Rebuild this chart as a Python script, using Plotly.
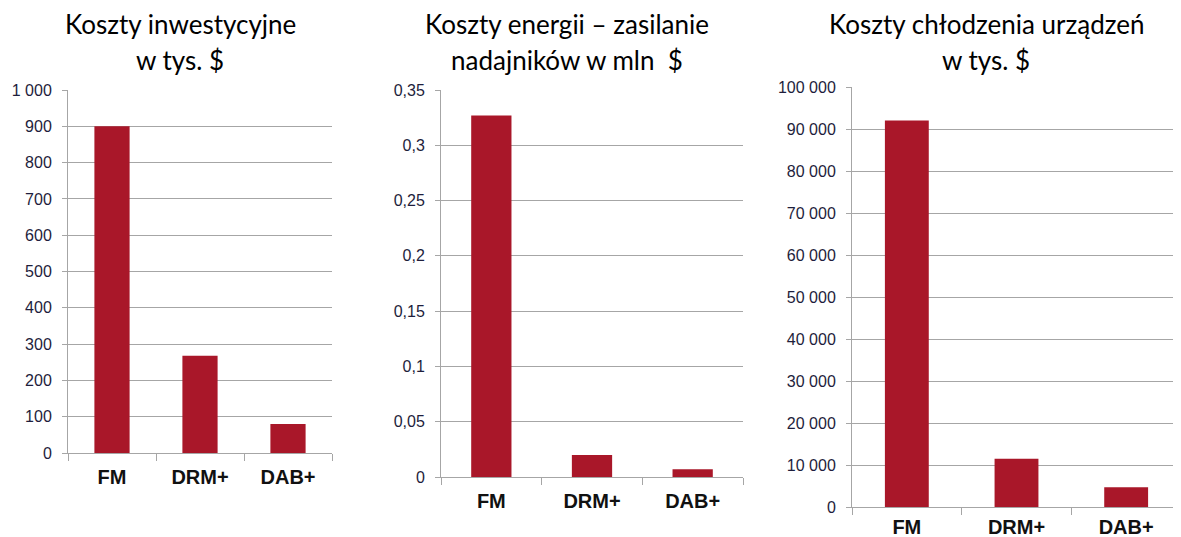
import plotly.graph_objects as go

categories = ["FM", "DRM+", "DAB+"]
invest_k_usd = [900, 268, 80]
energy_mln_usd = [0.327, 0.020, 0.007]
cooling_k_usd = [92000, 11500, 4700]

titles = [
    ["Koszty inwestycyjne", "w tys. $"],
    ["Koszty energii – zasilanie", "nadajników w mln  $"],
    ["Koszty chłodzenia urządzeń", "w tys. $"],
]

W, H = 1181, 537
OFF = 8  # page body margin offset
BAR = "#A91729"
GRID = "#A6A6A6"
TICKC = "#1E1E3C"

# pixel boxes in the picture (left, right, top, bottom)
boxes = [(68, 332, 90, 453), (441, 743, 90, 477), (852, 1181, 87, 507)]
ranges = [(0, 1000, 100, ",d"), (0, 0.35, 0.05, ""), (0, 100000, 10000, ",d")]
xstandoff = [6, 6, 2]
title_cx = [180, 567, 986]
series = [invest_k_usd, energy_mln_usd, cooling_k_usd]

fig = go.Figure()
layout = dict(
    width=W, height=H, margin=dict(l=0, r=0, t=0, b=0, pad=0, autoexpand=False),
    paper_bgcolor="white", plot_bgcolor="white",
    showlegend=False, separators=", ",
    annotations=[],
)
for i in range(3):
    l, r, t, b = [v - OFF for v in boxes[i]]
    r = min(r, W)
    xa = "x" if i == 0 else f"x{i+1}"
    ya = "y" if i == 0 else f"y{i+1}"
    fig.add_trace(go.Bar(x=categories, y=series[i], xaxis=xa, yaxis=ya,
                         marker=dict(color=BAR, line=dict(width=0)), width=0.4))
    lo, hi, dt, fmt = ranges[i]
    kx = "xaxis" if i == 0 else f"xaxis{i+1}"
    ky = "yaxis" if i == 0 else f"yaxis{i+1}"
    layout[kx] = dict(domain=[l / W, r / W], anchor=ya, type="category",
                      automargin=False,
                      showline=True, linecolor=GRID, linewidth=1,
                      ticks="outside", tickson="boundaries", ticklen=7, tickcolor=GRID,
                      showgrid=False, ticklabelstandoff=xstandoff[i],
                      tickfont=dict(family="Arial", size=20, color="#111111", weight="bold"),
                      range=[-0.5, 2.5], fixedrange=True)
    layout[ky] = dict(domain=[1 - b / H, 1 - t / H], anchor=xa, range=[lo, hi],
                      automargin=False,
                      dtick=dt, tick0=0, tickformat=fmt,
                      showline=True, linecolor=GRID, linewidth=1,
                      ticks="outside", ticklen=5, tickcolor=GRID,
                      showgrid=True, gridcolor=GRID, gridwidth=1,
                      zeroline=False, ticklabelstandoff=7,
                      tickfont=dict(family="Arial", size=16, color=TICKC))
    for j, txt in enumerate(titles[i]):
        layout["annotations"].append(dict(
            text=txt, xref="paper", yref="paper", x=(title_cx[i] - OFF) / W,
            y=1 - (24 + 36 * j - OFF) / H, xanchor="center", yanchor="middle",
            showarrow=False, font=dict(family="Lato", size=26, color="#000000")))

fig.update_layout(**layout)
fig.write_html("out.html")
